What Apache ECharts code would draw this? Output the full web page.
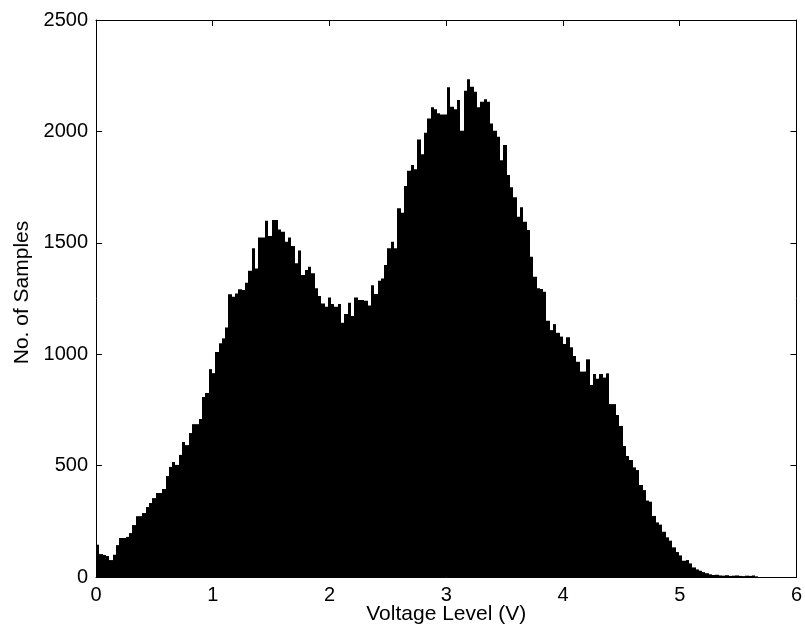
<!DOCTYPE html>
<html>
<head>
<meta charset="utf-8">
<script src="https://cdn.jsdelivr.net/npm/echarts@6/dist/echarts.min.js"></script>
<style>
html,body{margin:0;padding:0;background:#fff;}
#chart{width:805px;height:633px;}
</style>
</head>
<body>
<div id="chart"></div>
<script>
// Histogram: 200 bins from 0 V, bin width in volts
const binStart = 0;
const binWidth = 0.028375;
const counts = [
 145,103,99,94,76,100,143,175,175,180,
 197,233,273,273,287,314,332,354,377,377,
 395,453,494,516,503,548,606,592,646,686,
 686,709,808,826,933,915,1010,1049,1071,1120,
 1269,1258,1273,1291,1288,1321,1375,1475,1385,1524,
 1524,1599,1530,1602,1602,1560,1550,1505,1524,1486,
 1408,1465,1355,1378,1393,1363,1296,1261,1228,1213,
 1255,1225,1213,1225,1141,1180,1231,1171,1255,1243,
 1243,1240,1219,1310,1270,1330,1340,1400,1475,1505,
 1475,1655,1635,1755,1823,1849,1830,1964,1898,1994,
 2058,2108,2099,2081,2076,2076,2198,2111,2099,2141,
 2003,2183,2234,2200,2178,2108,2133,2144,2133,2036,
 2003,1976,1871,1939,1804,1749,1704,1617,1659,1595,
 1557,1437,1348,1296,1293,1280,1150,1108,1135,1096,
 1079,1046,1076,1031,992,966,922,922,977,862,
 911,890,911,895,914,776,776,727,678,588,
 543,525,492,480,413,390,343,338,274,245,
 235,203,178,163,133,112,97,73,76,61,
 43,34,28,22,17,12,9,10,7,6,
 8,5,6,7,5,4,6,5,7,3
];
const xTicks = {min: 0, max: 6, interval: 1};
const yTicks = {min: 0, max: 2500, interval: 500};
const xLabel = 'Voltage Level (V)';
const yLabel = 'No. of Samples';

const data = counts.map((c, i) => [binStart + (i + 0.5) * binWidth, c, i]);

const font = "'Liberation Sans', Arial, Helvetica, sans-serif";
const chart = echarts.init(document.getElementById('chart'), null, {renderer: 'canvas'});
const lineStyle = {color: '#000', width: 1};
const plain = function (v) { return String(v); };
chart.setOption({
  animation: false,
  backgroundColor: '#fff',
  grid: {left: 96, right: 7, top: 20, bottom: 56, containLabel: false},
  xAxis: [{
    type: 'value', position: 'bottom', min: xTicks.min, max: xTicks.max, interval: xTicks.interval,
    axisLine: {show: true, onZero: false, lineStyle}, axisTick: {show: true, inside: true, length: 6, lineStyle},
    splitLine: {show: false},
    axisLabel: {color: '#000', fontSize: 20, fontFamily: font, margin: 8, formatter: plain},
    name: xLabel, nameLocation: 'middle', nameGap: 27, nameMoveOverlap: false,
    nameTextStyle: {color: '#000', fontSize: 21, fontFamily: font}
  }, {
    type: 'value', position: 'top', min: xTicks.min, max: xTicks.max, interval: xTicks.interval,
    axisLine: {show: true, onZero: false, lineStyle}, axisTick: {show: true, inside: true, length: 6, lineStyle},
    splitLine: {show: false}, axisLabel: {show: false}
  }],
  yAxis: [{
    type: 'value', position: 'left', min: yTicks.min, max: yTicks.max, interval: yTicks.interval,
    axisLine: {show: true, onZero: false, lineStyle}, axisTick: {show: true, inside: true, length: 6, lineStyle},
    splitLine: {show: false},
    axisLabel: {color: '#000', fontSize: 20, fontFamily: font, margin: 8, formatter: plain},
    name: yLabel, nameLocation: 'middle', nameGap: 63, nameMoveOverlap: false,
    nameTextStyle: {color: '#000', fontSize: 21, fontFamily: font, padding: [0, 0, 0, 12]}
  }, {
    type: 'value', position: 'right', min: yTicks.min, max: yTicks.max, interval: yTicks.interval,
    axisLine: {show: true, onZero: false, lineStyle}, axisTick: {show: true, inside: true, length: 6, lineStyle},
    splitLine: {show: false}, axisLabel: {show: false}
  }],
  series: [{
    type: 'custom',
    xAxisIndex: 0, yAxisIndex: 0,
    encode: {x: 0, y: 1},
    data: data,
    renderItem: function (params, api) {
      const i = api.value(2);
      const v = api.value(1);
      const x0 = binStart + i * binWidth;
      const x1 = x0 + binWidth;
      const p0 = api.coord([x0, v]);
      const p1 = api.coord([x1, 0]);
      const left = Math.round(p0[0]);
      const right = Math.round(p1[0]);
      return {
        type: 'rect',
        shape: {x: left, y: p0[1], width: right - left, height: p1[1] - p0[1]},
        style: {fill: '#000', stroke: null, lineWidth: 0}
      };
    }
  }]
});
</script>
</body>
</html>
